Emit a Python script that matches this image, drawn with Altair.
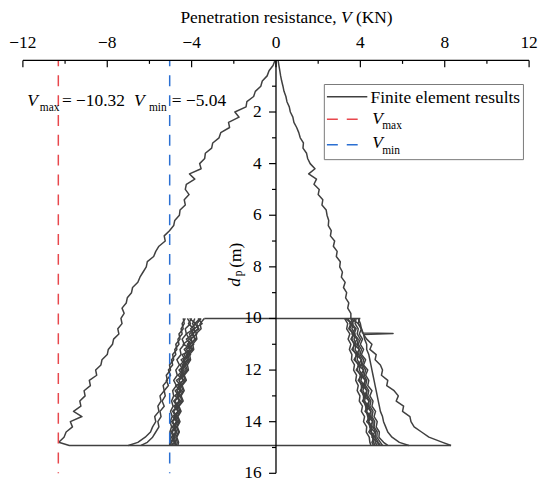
import altair as alt
import pandas as pd

FONT = "Liberation Serif, Times New Roman, DejaVu Serif, serif"
CURVE = "#404040"
RED = "#e8474c"
BLUE = "#2a6fd2"

# ---------------- data ----------------
DEPTH_L = [0.0, 0.2, 0.4, 0.6, 0.8, 1.0, 1.2, 1.4, 1.6, 1.8,
           2.0, 2.2, 2.4, 2.6, 2.8, 3.0, 3.2, 3.4, 3.6, 3.8,
           4.0, 4.2, 4.4, 4.6, 4.8, 5.0, 5.2, 5.4, 5.6, 5.8,
           6.0, 6.2, 6.4, 6.6, 6.8, 7.0, 7.2, 7.4, 7.6, 7.8,
           8.0, 8.2, 8.4, 8.6, 8.8, 9.0, 9.2, 9.4, 9.6, 9.8,
           10.0, 10.2, 10.4, 10.6, 10.8, 11.0, 11.2, 11.4, 11.6, 11.8,
           12.0, 12.2, 12.4, 12.6, 12.8, 13.0, 13.2, 13.4, 13.6, 13.8,
           14.0, 14.2, 14.4, 14.6, 14.8]

OUTER_L_V = [-0.05, -0.14, -0.33, -0.42, -0.65, -0.72, -0.98, -1.06, -1.38, -1.42,
             -1.95, -1.75, -2.25, -2.20, -2.62, -2.70, -3.00, -3.05, -3.35, -3.38,
             -3.62, -3.55, -4.10, -3.85, -4.25, -4.30, -4.12, -4.35, -4.30, -4.55,
             -4.58, -4.80, -4.85, -5.05, -5.30, -5.25, -5.55, -5.70, -5.80, -6.10,
             -6.15, -6.30, -6.45, -6.55, -6.80, -6.85, -7.05, -7.10, -7.30, -7.20,
             -7.35, -7.30, -7.50, -7.45, -7.70, -7.75, -7.95, -8.00, -8.25, -8.30,
             -8.55, -8.50, -8.85, -8.80, -9.10, -9.05, -9.30, -9.25, -9.60, -9.20,
             -9.75, -9.65, -9.95, -10.05, -10.30]

RIGHT_V = [0.10, 0.14, 0.18, 0.22, 0.27, 0.33, 0.38, 0.47, 0.52, 0.63,
           0.68, 0.80, 0.85, 0.98, 1.08, 1.15, 1.30, 1.28, 1.45, 1.50,
           1.62, 1.85, 1.55, 1.92, 1.80, 2.05, 2.00, 2.22, 2.18, 2.38,
           2.42, 2.50, 2.48, 2.62, 2.58, 2.78, 2.72, 2.90, 2.86, 3.05,
           3.02, 3.15, 3.10, 3.28, 3.20, 3.35, 3.30, 3.45, 3.40, 3.55,
           3.55]

OUTER_R_D = [10.0, 10.2, 10.4, 10.56, 10.58, 10.62, 10.8, 11.0, 11.2, 11.4,
             11.6, 11.8, 12.0, 12.2, 12.4, 12.6, 12.8, 13.0, 13.2, 13.4,
             13.6, 13.8, 14.0, 14.2, 14.4, 14.6, 14.8, 14.92]
OUTER_R_V = [3.55, 3.90, 4.05, 4.10, 5.55, 4.15, 4.30, 4.55, 4.45, 4.75,
             4.70, 4.95, 5.05, 5.00, 5.30, 5.25, 5.60, 5.80, 5.70, 6.05,
             6.00, 6.35, 6.40, 6.55, 6.90, 7.25, 7.90, 8.30]

BOTTOM_D = [14.8, 14.92, 14.92]
BOTTOM_V = [-10.30, -9.80, 8.30]
TOP10_D = [10.0, 10.0]
TOP10_V = [-3.40, 4.00]

BAND_D = [10.0, 10.2, 10.4, 10.6, 10.8, 11.0, 11.2, 11.4, 11.6, 11.8,
          12.0, 12.2, 12.4, 12.6, 12.8, 13.0, 13.2, 13.4, 13.6, 13.8,
          14.0, 14.2, 14.4, 14.6, 14.8, 14.92]

BAND_LINES = {
    "L1": [-4.20, -4.05, -4.30, -4.25, -4.45, -4.35, -4.55, -4.50, -4.70, -4.58,
           -4.75, -4.68, -4.85, -4.72, -4.90, -4.85, -4.95, -4.88, -5.00, -4.92,
           -5.02, -4.95, -5.03, -4.98, -5.04, -5.04],
    "L2": [-3.55, -3.75, -3.70, -3.95, -3.85, -4.05, -3.95, -4.20, -4.10, -4.30,
           -4.20, -4.40, -4.30, -4.50, -4.40, -4.55, -4.45, -4.65, -4.55, -4.70,
           -4.60, -4.72, -4.62, -4.75, -4.68, -4.72],
    "L3": [-3.85, -3.95, -3.85, -4.10, -4.00, -4.20, -4.10, -4.35, -4.20, -4.45,
           -4.35, -4.55, -4.40, -4.65, -4.50, -4.70, -4.60, -4.78, -4.65, -4.82,
           -4.72, -4.85, -4.75, -4.88, -4.80, -4.85],
    "L4": [-3.40, -3.60, -3.55, -3.80, -3.75, -3.95, -3.90, -4.10, -4.05, -4.20,
           -4.15, -4.35, -4.25, -4.45, -4.35, -4.50, -4.40, -4.60, -4.50, -4.65,
           -4.55, -4.68, -4.58, -4.70, -4.62, -4.65],
    "L5": [-4.00, -4.15, -3.90, -4.25, -4.10, -4.40, -3.95, -4.45, -4.30, -4.55,
           -4.40, -4.65, -4.35, -4.75, -4.55, -4.80, -4.50, -4.85, -4.62, -4.90,
           -4.70, -4.92, -4.75, -4.95, -4.82, -4.95],
    "L6": [-3.70, -3.50, -3.90, -3.75, -4.05, -3.90, -4.25, -4.05, -4.40, -4.25,
           -4.50, -4.35, -4.60, -4.45, -4.70, -4.55, -4.80, -4.62, -4.85, -4.70,
           -4.90, -4.75, -4.92, -4.80, -4.95, -4.90],
    "L7": [-4.10, -3.80, -4.05, -3.90, -4.25, -4.05, -4.35, -4.15, -4.50, -4.30,
           -4.60, -4.40, -4.72, -4.50, -4.78, -4.60, -4.85, -4.68, -4.90, -4.75,
           -4.95, -4.78, -4.98, -4.85, -5.00, -4.98],
    "L8": [-3.60, -3.85, -3.65, -4.00, -3.80, -4.15, -4.00, -4.25, -4.15, -4.40,
           -4.25, -4.50, -4.40, -4.60, -4.48, -4.68, -4.55, -4.72, -4.62, -4.78,
           -4.66, -4.80, -4.70, -4.82, -4.75, -4.78],
    "O1": [-4.40, -4.35, -4.50, -4.45, -4.65, -4.60, -4.80, -4.75, -4.95, -4.90,
           -5.10, -5.00, -5.20, -5.10, -5.30, -5.25, -5.40, -5.30, -5.50, -5.45,
           -5.60, -5.55, -5.70, -5.85, -6.10, -6.40],
    "O2": [-4.30, -4.45, -4.40, -4.60, -4.55, -4.75, -4.70, -4.90, -4.85, -5.05,
           -5.00, -5.20, -5.15, -5.35, -5.30, -5.50, -5.45, -5.60, -5.55, -5.75,
           -5.70, -5.85, -5.95, -6.20, -6.55, -7.00],
    "R1": [3.25, 3.40, 3.35, 3.50, 3.42, 3.55, 3.48, 3.60, 3.58, 3.72,
           3.68, 3.82, 3.78, 3.90, 3.85, 3.98, 3.95, 4.10, 4.05, 4.20,
           4.15, 4.30, 4.28, 4.42, 4.45, 4.50],
    "R2": [3.80, 3.75, 3.90, 3.85, 4.00, 3.90, 4.05, 3.98, 4.15, 4.10,
           4.25, 4.18, 4.30, 4.25, 4.40, 4.35, 4.50, 4.45, 4.60, 4.55,
           4.68, 4.65, 4.80, 4.78, 4.95, 5.05],
    "R3": [3.55, 3.65, 3.60, 3.75, 3.70, 3.80, 3.75, 3.88, 3.85, 4.00,
           3.95, 4.10, 4.02, 4.18, 4.12, 4.25, 4.20, 4.38, 4.30, 4.48,
           4.40, 4.55, 4.52, 4.70, 4.70, 4.80],
    "R4": [3.95, 3.90, 4.05, 3.95, 4.10, 4.00, 4.15, 4.05, 4.25, 4.15,
           4.35, 4.25, 4.40, 4.35, 4.55, 4.45, 4.60, 4.55, 4.72, 4.65,
           4.80, 4.75, 4.90, 4.88, 5.10, 5.30],
    "R5": [3.40, 3.55, 3.45, 3.70, 3.55, 3.75, 3.60, 3.85, 3.70, 3.95,
           3.80, 4.05, 3.90, 4.15, 4.00, 4.25, 4.10, 4.35, 4.22, 4.45,
           4.30, 4.55, 4.40, 4.65, 4.55, 4.62],
    "R6": [3.65, 3.50, 3.75, 3.60, 3.85, 3.70, 3.95, 3.80, 4.05, 3.90,
           4.15, 4.00, 4.25, 4.10, 4.32, 4.18, 4.42, 4.28, 4.50, 4.38,
           4.58, 4.45, 4.68, 4.55, 4.80, 4.90],
    "R7": [3.30, 3.60, 3.50, 3.65, 3.60, 3.70, 3.65, 3.80, 3.75, 3.90,
           3.85, 4.00, 3.95, 4.05, 4.05, 4.15, 4.15, 4.25, 4.28, 4.35,
           4.38, 4.45, 4.50, 4.58, 4.62, 4.70],
    "R8": [3.75, 3.60, 3.80, 3.70, 3.90, 3.85, 3.95, 3.92, 4.05, 4.05,
           4.15, 4.12, 4.22, 4.20, 4.30, 4.30, 4.40, 4.40, 4.50, 4.50,
           4.60, 4.60, 4.72, 4.70, 4.85, 4.95],
    "F": [3.90, 4.00, 4.05, 4.15, 4.20, 4.30, 4.30, 4.40, 4.45, 4.50,
          4.55, 4.60, 4.65, 4.70, 4.75, 4.80, 4.85, 4.90, 4.95, 5.05,
          5.10, 5.20, 5.30, 5.50, 5.85, 6.30],
}

V_REF_NAMES = ["Vmax", "Vmin"]
V_REF_VALUES = [-10.32, -5.04]

X_MAJOR = [-12, -8, -4, 0, 4, 8, 12]
X_LABELS = ["\u221212", "\u22128", "\u22124", "0", "4", "8", "12"]
X_MINOR = [-10, -6, -2, 2, 6, 10]
Y_MAJOR = [2, 4, 6, 8, 10, 12, 14, 16]
Y_LABELS = ["2", "4", "6", "8", "10", "12", "14", "16"]
Y_MINOR = [1, 3, 5, 7, 9, 11, 13, 15]

# ---------------- tables ----------------
rows = []


def add(name, ds, vs):
    for i, (d, v) in enumerate(zip(ds, vs)):
        rows.append({"seg": name, "i": i, "d": d, "v": v})


add("upper_right", DEPTH_L[:51], RIGHT_V)
add("outer_right", OUTER_R_D, OUTER_R_V)
add("outer_left", DEPTH_L, OUTER_L_V)
add("bottom", BOTTOM_D, BOTTOM_V)
add("top10", TOP10_D, TOP10_V)
for k, vals in BAND_LINES.items():
    add(k, BAND_D, vals)
curve_df = pd.DataFrame(rows)

ref_df = pd.DataFrame({"name": V_REF_NAMES, "v": V_REF_VALUES})
xmaj_df = pd.DataFrame({"v": X_MAJOR, "lab": X_LABELS})
xmin_df = pd.DataFrame({"v": X_MINOR})
ymaj_df = pd.DataFrame({"d": Y_MAJOR, "lab": Y_LABELS})
ymin_df = pd.DataFrame({"d": Y_MINOR})

W, H = 510, 416
YAX = 255  # pixel position of V = 0
XS = alt.Scale(domain=[-12, 12], nice=False, zero=False)
YS = alt.Scale(domain=[0, 16], reverse=True, nice=False, zero=False)

curves = alt.Chart(curve_df).mark_line(color=CURVE, strokeWidth=1.5, strokeJoin="round").encode(
    x=alt.X("v:Q", scale=XS, axis=None),
    y=alt.Y("d:Q", scale=YS, axis=None),
    detail="seg:N",
    order="i:Q",
)

refs = alt.Chart(ref_df).mark_rule(strokeWidth=1.5, strokeDash=[11, 9], strokeDashOffset=5).encode(
    x=alt.X("v:Q", scale=XS, axis=None),
    y=alt.value(0),
    y2=alt.value(H),
    color=alt.Color("name:N", scale=alt.Scale(domain=V_REF_NAMES, range=[RED, BLUE]), legend=None),
)


def one():
    return alt.Data(values=[{"k": 1}])


# axes drawn as marks
x_domain = alt.Chart(one()).mark_rule(color="black", strokeWidth=1.3).encode(
    x=alt.value(0), x2=alt.value(W), y=alt.value(0))
y_domain = alt.Chart(one()).mark_rule(color="black", strokeWidth=1.3).encode(
    x=alt.value(YAX), y=alt.value(0), y2=alt.value(H))
xticks_major = alt.Chart(xmaj_df).mark_rule(color="black", strokeWidth=1.2).encode(
    x=alt.X("v:Q", scale=XS, axis=None), y=alt.value(0), y2=alt.value(7))
xticks_minor = alt.Chart(xmin_df).mark_rule(color="black", strokeWidth=1.2).encode(
    x=alt.X("v:Q", scale=XS, axis=None), y=alt.value(0), y2=alt.value(3.5))
xlabels = alt.Chart(xmaj_df).mark_text(font=FONT, fontSize=17.5, color="black",
                                       align="center", baseline="alphabetic").encode(
    x=alt.X("v:Q", scale=XS, axis=None), y=alt.value(-12.3), text="lab:N")
yticks_major = alt.Chart(ymaj_df).mark_rule(color="black", strokeWidth=1.2).encode(
    y=alt.Y("d:Q", scale=YS, axis=None), x=alt.value(YAX - 7), x2=alt.value(YAX))
yticks_minor = alt.Chart(ymin_df).mark_rule(color="black", strokeWidth=1.2).encode(
    y=alt.Y("d:Q", scale=YS, axis=None), x=alt.value(YAX - 4), x2=alt.value(YAX))
ylabels = alt.Chart(ymaj_df).mark_text(font=FONT, fontSize=17.5, color="black",
                                       align="right", baseline="middle").encode(
    y=alt.Y("d:Q", scale=YS, axis=None), x=alt.value(YAX - 14.5), text="lab:N")


def txt(s, x, y, size=17.5, style="normal", angle=None):
    props = dict(font=FONT, fontSize=size, fontStyle=style, align="left",
                 baseline="alphabetic", color="black")
    if angle is not None:
        props["angle"] = angle
    return alt.Chart(one()).mark_text(**props).encode(
        x=alt.value(x), y=alt.value(y), text=alt.value(s))


def hline(x1, x2, y, color, dash=None, width=1.5):
    props = dict(color=color, strokeWidth=width)
    if dash:
        props["strokeDash"] = dash
    return alt.Chart(one()).mark_rule(**props).encode(
        x=alt.value(x1), x2=alt.value(x2), y=alt.value(y))


legend_box = alt.Chart(one()).mark_rect(fill="white", stroke="#7a7a7a", strokeWidth=1).encode(
    x=alt.value(303.7), x2=alt.value(504.3), y=alt.value(24.3), y2=alt.value(100))

texts = [
    # x-axis title
    txt("Penetration resistance,", 158.7, -37.3),
    txt("V", 320.5, -37.3, style="italic"),
    txt("(KN)", 335.6, -37.3),
    # annotations
    txt("V", 4.3, 46, style="italic"),
    txt("max", 17, 51, size=11.5),
    txt("= \u221210.32", 39.3, 46),
    txt("V", 112, 46, style="italic"),
    txt("min", 127, 51, size=11.5),
    txt("= \u22125.04", 150, 46),
    # legend
    txt("Finite element results", 350.3, 42.7),
    txt("V", 352, 63.7, style="italic"),
    txt("max", 362, 69.3, size=11.5),
    txt("V", 352, 88.7, style="italic"),
    txt("min", 362, 94.3, size=11.5),
    # y-axis title (rotated)
    txt("d", 219, 228, style="italic", angle=270),
    txt("p", 221, 217.5, size=11.5, angle=270),
    txt("(m)", 219.5, 209, angle=270),
]

legend_lines = [
    hline(306.3, 347, 36.7, CURVE, width=1.5),
    hline(306.3, 338, 59.3, RED, dash=[11, 9]),
    hline(306.3, 338, 85, BLUE, dash=[11, 9]),
]

chart = alt.layer(
    curves, refs, x_domain, y_domain, xticks_major, xticks_minor, xlabels,
    yticks_major, yticks_minor, ylabels, legend_box, *legend_lines, *texts
).properties(
    width=W, height=H,
    padding={"left": 15, "top": 51, "right": 13, "bottom": 10},
    autosize=alt.AutoSizeParams(type="none"),
).configure_view(stroke=None)

chart.save("out.html", embed_options={"renderer": "svg", "actions": False})
